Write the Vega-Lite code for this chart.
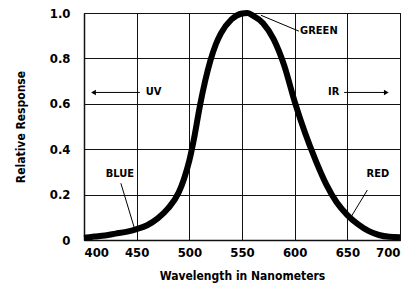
{
  "$schema": "https://vega.github.io/schema/vega-lite/v6.json",
  "width": 316,
  "height": 227,
  "autosize": "none",
  "padding": {"left": 84, "top": 13, "right": 14, "bottom": 48},
  "background": "white",
  "config": {
    "view": {"stroke": "#111", "strokeWidth": 1},
    "font": "DejaVu Sans Condensed, DejaVu Sans, sans-serif",
    "axis": {
      "gridColor": "#111",
      "gridOpacity": 1,
      "gridWidth": 1,
      "domainColor": "#111",
      "domainWidth": 1.5,
      "ticks": false,
      "labelFont": "DejaVu Sans Condensed, DejaVu Sans, sans-serif",
      "labelFontWeight": "bold",
      "labelFontSize": 13,
      "labelColor": "#000",
      "titleFont": "DejaVu Sans Condensed, DejaVu Sans, sans-serif",
      "titleFontWeight": "bold",
      "titleFontSize": 12,
      "titleColor": "#000"
    }
  },
  "datasets": {
    "curve": [
      {"wl": 400, "r": 0.01}, {"wl": 410, "r": 0.015}, {"wl": 420, "r": 0.02},
      {"wl": 430, "r": 0.028}, {"wl": 440, "r": 0.036}, {"wl": 450, "r": 0.048},
      {"wl": 460, "r": 0.065}, {"wl": 470, "r": 0.095}, {"wl": 480, "r": 0.14},
      {"wl": 490, "r": 0.21}, {"wl": 495, "r": 0.27}, {"wl": 500, "r": 0.35},
      {"wl": 505, "r": 0.46}, {"wl": 510, "r": 0.59}, {"wl": 515, "r": 0.7},
      {"wl": 520, "r": 0.79}, {"wl": 525, "r": 0.86}, {"wl": 530, "r": 0.91}, {"wl": 540, "r": 0.972},
      {"wl": 550, "r": 0.998}, {"wl": 555, "r": 1.0}, {"wl": 560, "r": 0.99},
      {"wl": 570, "r": 0.955}, {"wl": 580, "r": 0.885}, {"wl": 590, "r": 0.77},
      {"wl": 600, "r": 0.61}, {"wl": 610, "r": 0.47}, {"wl": 620, "r": 0.35},
      {"wl": 630, "r": 0.245}, {"wl": 640, "r": 0.165}, {"wl": 650, "r": 0.11},
      {"wl": 660, "r": 0.07}, {"wl": 670, "r": 0.04}, {"wl": 680, "r": 0.022},
      {"wl": 690, "r": 0.014}, {"wl": 700, "r": 0.012}
    ],
    "leaders": [
      {"wl": 568, "r": 0.99, "wl2": 604, "r2": 0.92},
      {"wl": 435, "r": 0.25, "wl2": 448, "r2": 0.05},
      {"wl": 669, "r": 0.22, "wl2": 652, "r2": 0.09},
      {"wl": 410, "r": 0.65, "wl2": 453, "r2": 0.65},
      {"wl": 647, "r": 0.65, "wl2": 686, "r2": 0.65}
    ],
    "labels": [
      {"wl": 623, "r": 0.92, "label": "GREEN"},
      {"wl": 434, "r": 0.29, "label": "BLUE"},
      {"wl": 679, "r": 0.29, "label": "RED"},
      {"wl": 466, "r": 0.65, "label": "UV"},
      {"wl": 637, "r": 0.65, "label": "IR"}
    ],
    "heads": [
      {"wl": 409, "r": 0.65, "shape": "triangle-left"},
      {"wl": 687, "r": 0.65, "shape": "triangle-right"}
    ]
  },
  "layer": [
    {
      "data": {"name": "curve"},
      "mark": {"type": "line", "color": "#000", "strokeWidth": 6, "interpolate": "monotone", "strokeCap": "butt"},
      "encoding": {
        "x": {
          "field": "wl", "type": "quantitative",
          "scale": {"domain": [400, 700], "nice": false},
          "axis": {"values": [400, 450, 500, 550, 600, 650, 700], "title": "Wavelength in Nanometers", "labelPadding": 6, "titlePadding": 11, "grid": true}
        },
        "y": {
          "field": "r", "type": "quantitative",
          "scale": {"domain": [0, 1], "nice": false},
          "axis": {"values": [0, 0.2, 0.4, 0.6, 0.8, 1.0], "title": "Relative Response", "labelPadding": 14, "titlePadding": 22, "grid": true, "labelExpr": "datum.value == 0 ? '0' : format(datum.value, '.1f')"}
        }
      }
    },
    {
      "data": {"name": "leaders"},
      "mark": {"type": "rule", "color": "#000", "strokeWidth": 1},
      "encoding": {
        "x": {"field": "wl", "type": "quantitative"},
        "y": {"field": "r", "type": "quantitative"},
        "x2": {"field": "wl2"},
        "y2": {"field": "r2"}
      }
    },
    {
      "data": {"name": "heads"},
      "mark": {"type": "point", "filled": true, "color": "#000", "size": 30, "opacity": 1},
      "encoding": {
        "x": {"field": "wl", "type": "quantitative"},
        "y": {"field": "r", "type": "quantitative"},
        "shape": {"field": "shape", "type": "nominal", "scale": null}
      }
    },
    {
      "data": {"name": "labels"},
      "mark": {"type": "text", "color": "#000", "fontWeight": "bold", "fontSize": 11, "font": "DejaVu Sans Condensed, DejaVu Sans, sans-serif", "baseline": "middle", "align": "center"},
      "encoding": {
        "x": {"field": "wl", "type": "quantitative"},
        "y": {"field": "r", "type": "quantitative"},
        "text": {"field": "label"}
      }
    }
  ]
}
